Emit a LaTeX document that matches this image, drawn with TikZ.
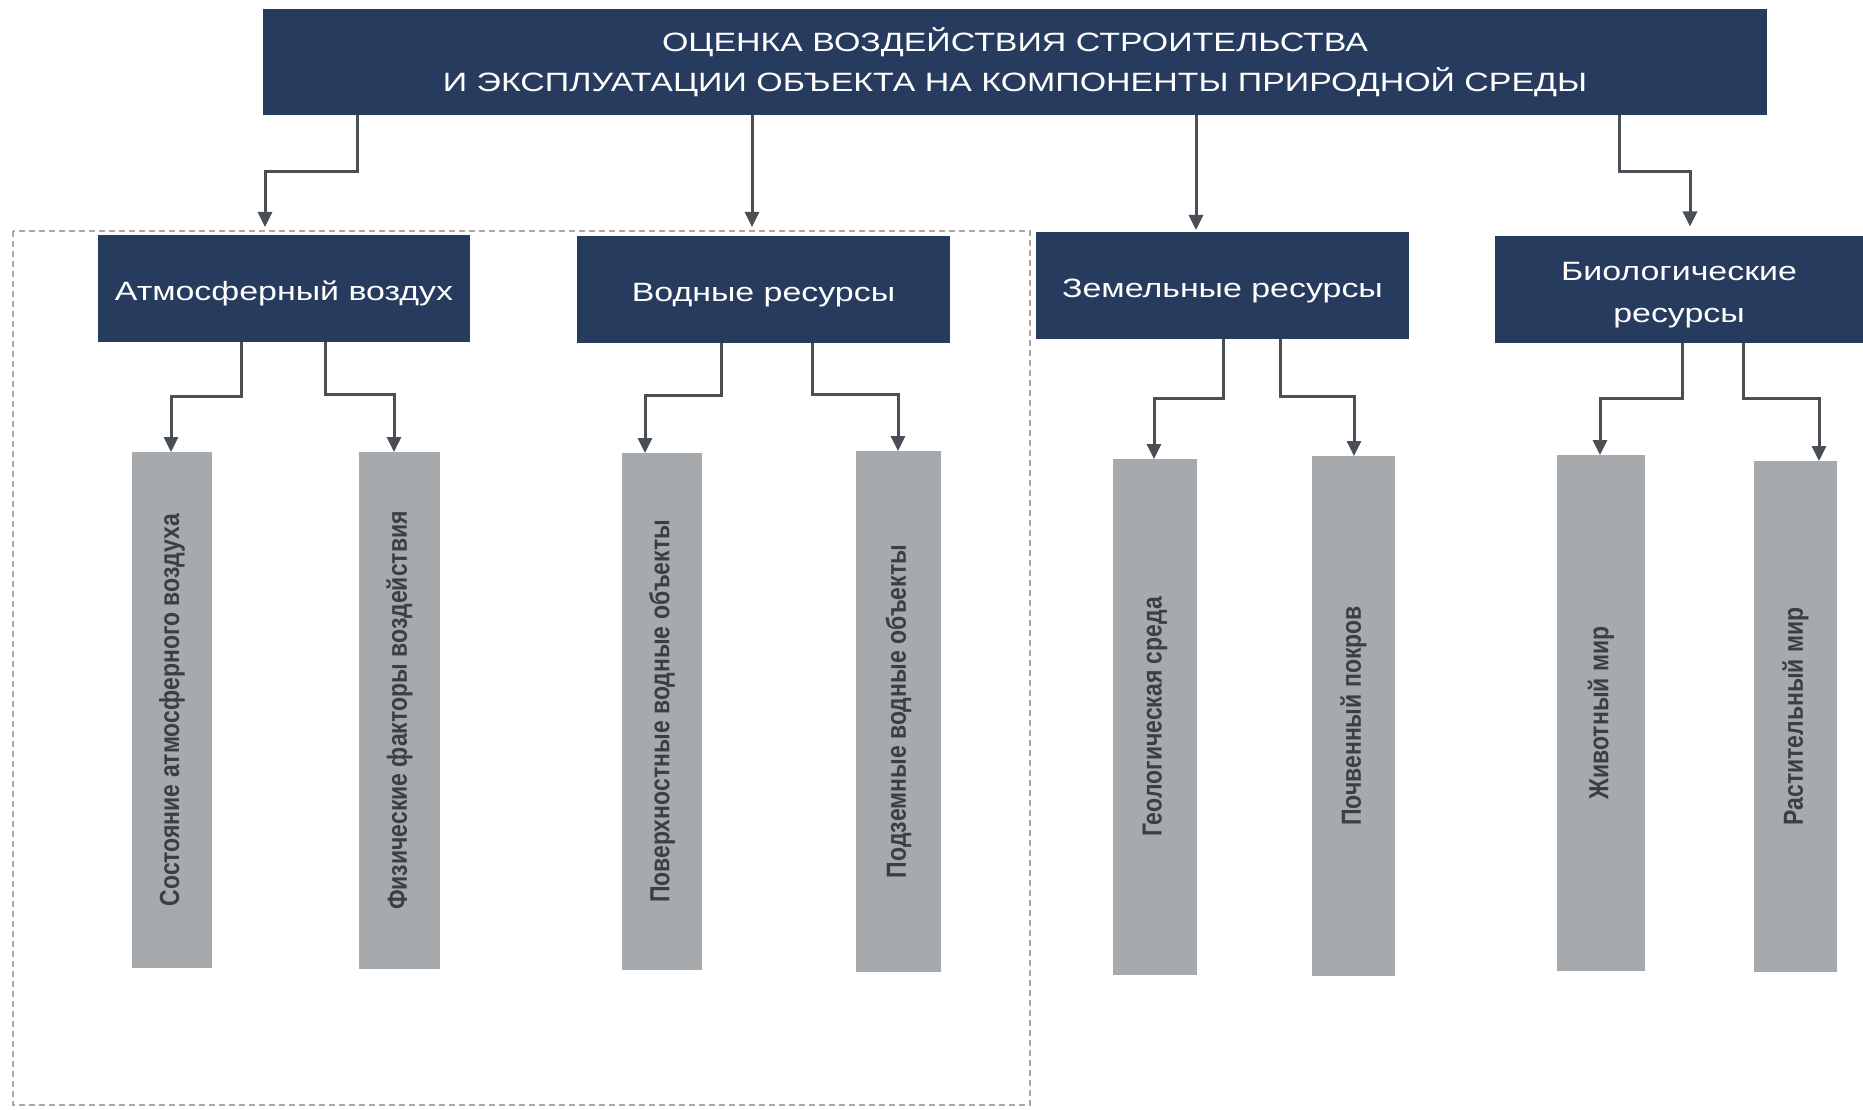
\documentclass[tikz,border=0pt]{standalone}
\usepackage{fontspec}
\usepackage{graphicx}
\setmainfont{Liberation Sans}[FakeStretch=1.28]
\newfontfamily\vfont{Liberation Sans}
\usetikzlibrary{arrows.meta,calc}
\definecolor{navy}{HTML}{273B5E}
\definecolor{leafgrey}{HTML}{A7AAAD}
\definecolor{leaftext}{HTML}{3A3F44}
\definecolor{conncol}{HTML}{4A4F55}
\definecolor{dashcol}{HTML}{A8A8A8}
\newcommand{\vlabel}[1]{\rotatebox{90}{\scalebox{1}[1.2]{\vfont\bfseries\fontsize{23}{26}\selectfont #1}}}
\newcommand{\mlabel}[1]{\raisebox{-4pt}[\height][\depth]{\fontsize{26.5}{41.5}\selectfont\begin{tabular}{@{}c@{}}#1\end{tabular}}}
\begin{document}
\begin{tikzpicture}[x=1pt,y=-1pt,
  topbox/.style={fill=navy, text=white, inner sep=0pt, outer sep=0pt, align=center,
    font=\fontsize{26.5}{40}\selectfont},
  midbox/.style={fill=navy, text=white, inner sep=0pt, outer sep=0pt, minimum height=107pt},
  leaf/.style={fill=leafgrey, text=leaftext, inner sep=0pt, outer sep=0pt},
  conn/.style={draw=conncol, line width=3pt, -{Triangle[width=14pt,length=15pt]}},
  groupbox/.style={draw=dashcol, line width=1.4pt, dash pattern=on 6pt off 4pt}
]
\useasboundingbox (0,0) rectangle (1863,1110);

% dashed group frame
\draw[groupbox] (13,231) rectangle (1030,1105);

% title
\node[topbox, minimum width=1504pt, minimum height=106pt] (T) at (1015,62)
  {ОЦЕНКА ВОЗДЕЙСТВИЯ СТРОИТЕЛЬСТВА\\И ЭКСПЛУАТАЦИИ ОБЪЕКТА НА КОМПОНЕНТЫ ПРИРОДНОЙ СРЕДЫ};

% level 2
\node[midbox, minimum width=372pt] (A) at (284,288.5) {\mlabel{Атмосферный воздух}};
\node[midbox, minimum width=373pt] (W) at (763.5,289.5) {\mlabel{Водные ресурсы}};
\node[midbox, minimum width=373pt] (Z) at (1222.5,285.5) {\mlabel{Земельные ресурсы}};
\node[midbox, minimum width=368pt] (B) at (1679,289) {\mlabel{Биологические\\ресурсы}};

% level 3
\node[leaf, minimum width=80pt, minimum height=516pt] (L1) at (172,710) {\vlabel{Состояние атмосферного воздуха}};
\node[leaf, minimum width=81pt, minimum height=517pt] (L2) at (399.5,710.5) {\vlabel{Физические факторы воздействия}};
\node[leaf, minimum width=80pt, minimum height=517pt] (L3) at (662,711.5) {\vlabel{Поверхностные водные объекты}};
\node[leaf, minimum width=85pt, minimum height=521pt] (L4) at (898.5,711.5) {\vlabel{Подземные водные объекты}};
\node[leaf, minimum width=84pt, minimum height=516pt] (L5) at (1155,717) {\vlabel{Геологическая среда}};
\node[leaf, minimum width=83pt, minimum height=520pt] (L6) at (1353.5,716) {\vlabel{Почвенный покров}};
\node[leaf, minimum width=88pt, minimum height=516pt] (L7) at (1601,713) {\vlabel{Животный мир}};
\node[leaf, minimum width=83pt, minimum height=511pt] (L8) at (1795.5,716.5) {\vlabel{Растительный мир}};

% connectors level 1 -> 2
\coordinate (ta1) at (357,172); \coordinate (ta2) at (265,172);
\draw[conn, shorten >=8pt] (T.south -| ta1) -- (ta1) -- (ta2) -- (A.north -| ta2);
\coordinate (tw) at (752,0);
\draw[conn, shorten >=9pt] (T.south -| tw) -- (W.north -| tw);
\coordinate (tz) at (1196,0);
\draw[conn, shorten >=2pt] (T.south -| tz) -- (Z.north -| tz);
\coordinate (tb1) at (1619,172); \coordinate (tb2) at (1690,172);
\draw[conn, shorten >=9pt] (T.south -| tb1) -- (tb1) -- (tb2) -- (B.north -| tb2);

% connectors level 2 -> 3
\coordinate (a11) at (241,396); \coordinate (a12) at (171,396);
\draw[conn] (A.south -| a11) -- (a11) -- (a12) -- (L1.north -| a12);
\coordinate (a21) at (325,394); \coordinate (a22) at (394,394);
\draw[conn] (A.south -| a21) -- (a21) -- (a22) -- (L2.north -| a22);
\coordinate (w11) at (721,395); \coordinate (w12) at (645,395);
\draw[conn] (W.south -| w11) -- (w11) -- (w12) -- (L3.north -| w12);
\coordinate (w21) at (812,394); \coordinate (w22) at (898,394);
\draw[conn] (W.south -| w21) -- (w21) -- (w22) -- (L4.north -| w22);
\coordinate (z11) at (1223,398); \coordinate (z12) at (1154,398);
\draw[conn] (Z.south -| z11) -- (z11) -- (z12) -- (L5.north -| z12);
\coordinate (z21) at (1280,396); \coordinate (z22) at (1354,396);
\draw[conn] (Z.south -| z21) -- (z21) -- (z22) -- (L6.north -| z22);
\coordinate (b11) at (1682,398); \coordinate (b12) at (1600,398);
\draw[conn] (B.south -| b11) -- (b11) -- (b12) -- (L7.north -| b12);
\coordinate (b21) at (1743,398); \coordinate (b22) at (1819,398);
\draw[conn] (B.south -| b21) -- (b21) -- (b22) -- (L8.north -| b22);
\end{tikzpicture}
\end{document}
